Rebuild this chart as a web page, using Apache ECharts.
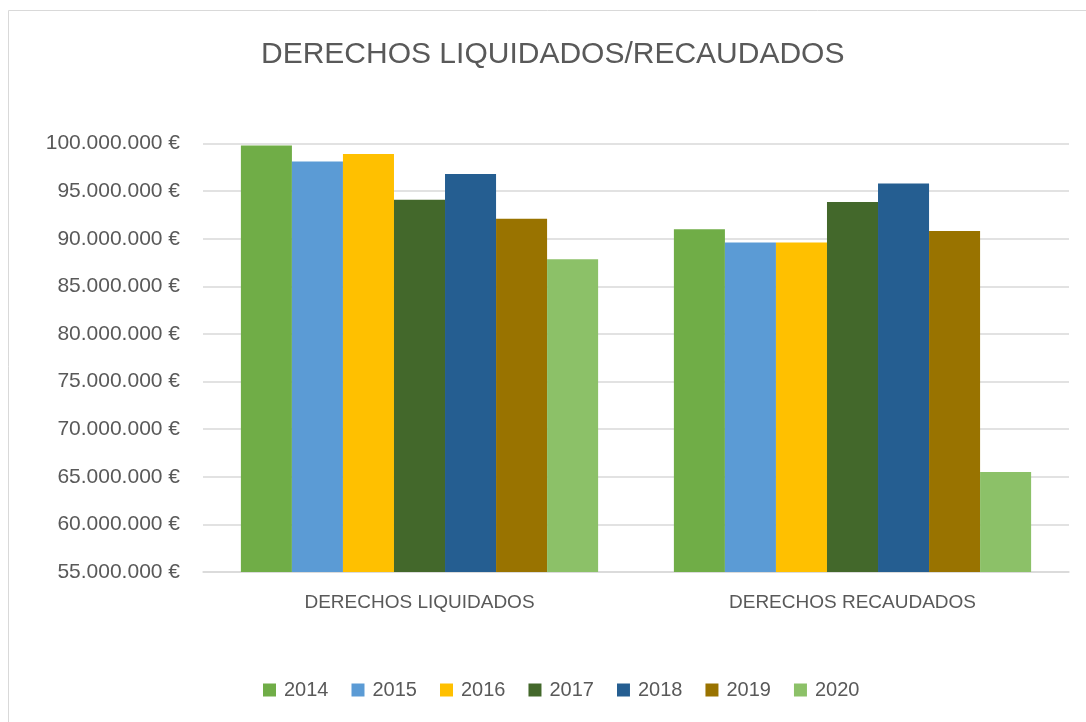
<!DOCTYPE html>
<html>
<head>
<meta charset="utf-8">
<script src="https://cdn.jsdelivr.net/npm/echarts@6/dist/echarts.min.js"></script>
<style>
  html, body { margin: 0; padding: 0; background: #fff; }
  #chart { width: 1086px; height: 722px; }
</style>
</head>
<body>
<div id="chart"></div>
<script>
const categories = ['DERECHOS LIQUIDADOS', 'DERECHOS RECAUDADOS']
const years = ['2014', '2015', '2016', '2017', '2018', '2019', '2020']
const values2014 = [99800000, 91000000]
const values2015 = [98100000, 89600000]
const values2016 = [98900000, 89600000]
const values2017 = [94100000, 93850000]
const values2018 = [96800000, 95800000]
const values2019 = [92100000, 90800000]
const values2020 = [87850000, 65500000]
const colors = ['#70AD47', '#5B9BD5', '#FFC000', '#43682B', '#255E91', '#997300', '#8CC168']

const seriesValues = [values2014, values2015, values2016, values2017, values2018, values2019, values2020]

// 100000000 -> "100.000.000 €"
const fmtEuro = v => String(Math.round(v)).replace(/\B(?=(\d{3})+(?!\d))/g, '.') + ' €'

const chart = echarts.init(document.getElementById('chart'))
const font = '"Liberation Sans", Arial, sans-serif'

chart.setOption({
  animation: false,
  textStyle: { fontFamily: font },
  color: colors,
  title: {
    text: 'DERECHOS LIQUIDADOS/RECAUDADOS',
    left: 256,
    top: 35,
    textStyle: { fontSize: 30, fontWeight: 'normal', color: '#595959', fontFamily: font }
  },
  graphic: [{
    type: 'rect',
    shape: { x: 8.5, y: 10.5, width: 1200, height: 900 },
    style: { fill: 'none', stroke: '#D9D9D9', lineWidth: 1 },
    silent: true
  }],
  legend: {
    data: years,
    bottom: 17,
    left: 258,
    itemWidth: 13,
    itemHeight: 13,
    itemGap: 23,
    icon: 'rect',
    textStyle: { fontSize: 20, color: '#595959', fontFamily: font, padding: [0, 0, 0, 3] }
  },
  grid: { left: 203, right: 17, top: 143.5, bottom: 150 },
  xAxis: {
    type: 'category',
    data: categories,
    axisTick: { show: false },
    axisLine: { lineStyle: { color: '#D9D9D9', width: 1.5 } },
    axisLabel: { fontSize: 19, color: '#595959', margin: 21 }
  },
  yAxis: {
    type: 'value',
    min: 55000000,
    max: 100000000,
    interval: 5000000,
    axisLine: { show: false },
    axisTick: { show: false },
    splitLine: { lineStyle: { color: '#D9D9D9', width: 1.5 } },
    axisLabel: { fontSize: 21, color: '#595959', margin: 23, formatter: fmtEuro }
  },
  series: years.map((y, i) => ({
    name: y,
    type: 'bar',
    data: seriesValues[i],
    barGap: '0%',
    barCategoryGap: '17.5%',
    itemStyle: { color: colors[i] }
  }))
})
</script>
</body>
</html>
